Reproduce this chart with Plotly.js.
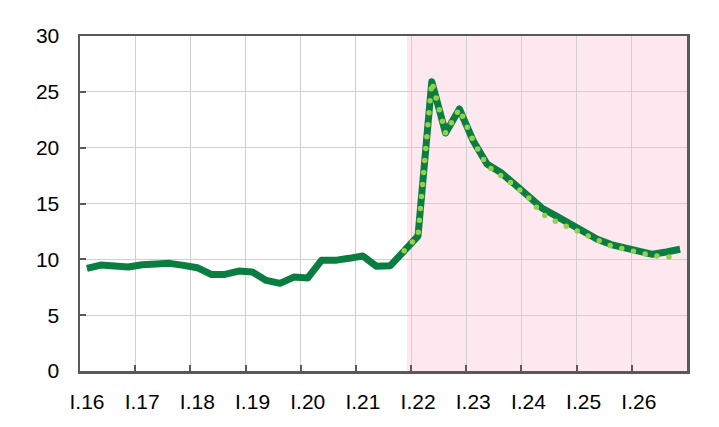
<!DOCTYPE html>
<html>
<head>
<meta charset="utf-8">
<script src="https://cdn.plot.ly/plotly-3.0.1.min.js"></script>
<style>
    html, body { margin: 0; padding: 0; background: #fff; }
    #chart { width: 719px; height: 427px; }
    .js-line { stroke-linejoin: round; }
    /* round caps turn the zero-length dashes into dots */
    .tracefc .js-line { stroke-linecap: round; }
</style>
</head>
<body>
<div id="chart"></div>
<script>
// Quarterly series, I.16 .. IV.26 ---------------------------------------------
const yearLabels = ['I.16', 'I.17', 'I.18', 'I.19', 'I.20', 'I.21', 'I.22', 'I.23', 'I.24', 'I.25', 'I.26'];
const actual = [
    9.19, 9.49, 9.40, 9.31, 9.52, 9.52, 9.64, 9.46, 9.25, 8.65, 8.65, 8.95,
    8.86, 8.11, 7.85, 8.41, 8.32, 9.91, 9.91, 10.09, 10.30, 9.37, 9.43, 10.76,
    12.09, 25.9, 21.31, 23.47, 20.62, 18.53, 17.78, 16.73, 15.68, 14.58, 13.89, 13.14,
    12.45, 11.80, 11.32, 11.01, 10.75, 10.45, 10.66, 10.90,
];
// earlier projection, starts at IV.21
const forecastStart = 23;
const forecast = [
    10.76, 12.09, 25.9, 21.31, 23.47, 20.62, 18.40, 17.55, 16.62, 15.55, 14.04,
    13.38, 12.85, 12.33, 11.77, 11.19, 10.90, 10.63, 10.33, 10.22, 10.22,
];
const shadeFrom = 23.2; // projection period shading

const xActual = actual.map((_, i) => i);
const xForecast = forecast.map((_, i) => i + forecastStart);
const tickPos = yearLabels.map((_, i) => i * 4 - 0.5);

const axisCol = '#595959';
const gridCol = '#d0d0d0';
const font = { family: '"Liberation Sans", Arial, sans-serif', size: 21, color: '#000' };

Plotly.newPlot('chart', [
    {
        type: 'scatter', mode: 'lines', x: xActual, y: actual,
        line: { color: '#0a7d40', width: 7 },
        hoverinfo: 'skip',
    },
    {
        type: 'scatter', mode: 'lines', x: xForecast, y: forecast, uid: 'fc',
        line: { color: '#92d050', width: 5.5, dash: '0px,12px' },
        hoverinfo: 'skip',
    },
], {
    width: 719, height: 427,
    paper_bgcolor: '#fff', plot_bgcolor: '#fff',
    font: font,
    showlegend: false,
    margin: { l: 80, r: 32, t: 36, b: 56 },
    xaxis: {
        range: [-0.5, actual.length - 0.5],
        tickmode: 'array', tickvals: tickPos, ticktext: yearLabels,
        ticks: 'inside', ticklen: 6, tickwidth: 2, tickcolor: axisCol,
        ticklabelshift: 7, ticklabelstandoff: 10,
        showgrid: true, gridcolor: gridCol, gridwidth: 1,
        showline: true, linecolor: axisCol, linewidth: 2.5, mirror: true,
        zeroline: false, tickfont: font,
    },
    yaxis: {
        range: [0, 30], dtick: 5, tick0: 0,
        ticks: 'inside', ticklen: 6, tickwidth: 2, tickcolor: axisCol,
        ticklabelstandoff: 14,
        showgrid: true, gridcolor: gridCol, gridwidth: 1,
        showline: true, linecolor: axisCol, linewidth: 2.5, mirror: true,
        zeroline: false, tickfont: font,
    },
    shapes: [{
        type: 'rect', layer: 'below', xref: 'x', yref: 'paper',
        x0: shadeFrom, x1: actual.length - 0.5, y0: 0, y1: 1,
        fillcolor: '#fde8ef', line: { width: 0 },
    }],
}, { displayModeBar: false, staticPlot: true });
</script>
</body>
</html>
